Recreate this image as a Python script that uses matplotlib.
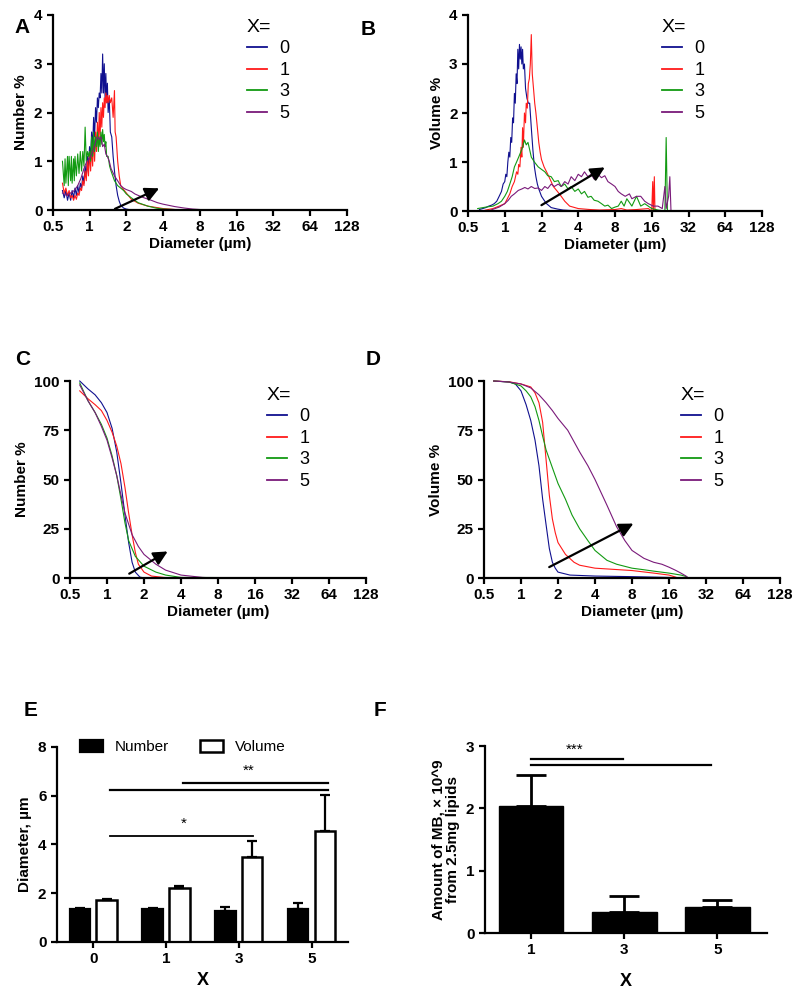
import matplotlib
matplotlib.use('Agg')
import matplotlib.pyplot as plt
from matplotlib.ticker import NullLocator

plt.rcParams['font.family'] = ['Liberation Sans', 'DejaVu Sans']

groups = ['0', '1', '3', '5']
colors = ['#10108f', '#ff1a1a', '#129a12', '#7a1a7a']
ticks_d = [0.5, 1, 2, 4, 8, 16, 32, 64, 128]
tick_lbl = ['0.5', '1', '2', '4', '8', '16', '32', '64', '128']

# A: number % distribution
a0_d = [0.60, 0.62, 0.64, 0.66, 0.68, 0.70, 0.72, 0.74, 0.76, 0.78, 0.80, 0.82, 0.84, 0.86, 0.88, 0.90,
        0.92, 0.94, 0.96, 0.98, 1.00, 1.02, 1.04, 1.06, 1.08, 1.10, 1.12, 1.14, 1.16, 1.18, 1.20, 1.22,
        1.24, 1.26, 1.28, 1.30, 1.32, 1.34, 1.36, 1.38, 1.40, 1.42, 1.45, 1.48, 1.52, 1.56, 1.60, 1.65,
        1.70, 1.75, 1.80, 1.90, 2.0, 2.2, 128]
a0_y = [0.4, 0.25, 0.4, 0.2, 0.35, 0.2, 0.4, 0.25, 0.45, 0.3, 0.5, 0.35, 0.55, 0.45, 0.7, 0.55,
        0.9, 0.7, 1.1, 0.9, 1.3, 1.1, 1.6, 1.3, 1.9, 1.5, 2.1, 1.8, 2.3, 2.1, 2.4, 2.3,
        2.8, 2.4, 3.2, 2.4, 3.0, 2.3, 2.8, 2.2, 2.6, 2.0, 2.3, 1.6, 1.5, 1.1, 0.8, 0.5,
        0.3, 0.18, 0.1, 0.04, 0.02, 0, 0]
a1_d = [0.60, 0.62, 0.64, 0.66, 0.68, 0.70, 0.72, 0.74, 0.76, 0.78, 0.80, 0.82, 0.84, 0.86, 0.88, 0.90,
        0.92, 0.94, 0.96, 0.98, 1.00, 1.02, 1.04, 1.06, 1.08, 1.10, 1.12, 1.14, 1.16, 1.18, 1.20, 1.22,
        1.24, 1.26, 1.28, 1.30, 1.32, 1.34, 1.36, 1.38, 1.40, 1.42, 1.45, 1.48, 1.52, 1.56, 1.60, 1.62,
        1.65, 1.70, 1.75, 1.80, 1.90, 2.0, 2.2, 2.5, 3.0, 4.0, 5.0, 6.0, 128]
a1_y = [0.55, 0.35, 0.45, 0.3, 0.4, 0.25, 0.3, 0.2, 0.3, 0.22, 0.35, 0.3, 0.45, 0.4, 0.6, 0.5,
        0.8, 0.6, 1.0, 0.7, 1.2, 0.8, 1.3, 0.9, 1.5, 1.0, 1.6, 1.2, 1.8, 1.3, 2.0, 1.5,
        2.1, 1.7, 2.2, 1.9, 2.3, 2.1, 2.4, 2.2, 2.35, 2.2, 2.35, 2.2, 2.3, 1.9, 2.45, 1.6,
        1.5, 1.0, 0.7, 0.5, 0.42, 0.35, 0.22, 0.14, 0.08, 0.03, 0.01, 0, 0]
a3_d = [0.60, 0.62, 0.63, 0.64, 0.66, 0.67, 0.68, 0.70, 0.71, 0.72, 0.74, 0.75, 0.76, 0.78, 0.80, 0.82,
        0.84, 0.86, 0.88, 0.90, 0.92, 0.94, 0.96, 0.98, 1.00, 1.02, 1.04, 1.06, 1.08, 1.10, 1.12, 1.14,
        1.16, 1.18, 1.20, 1.22, 1.24, 1.26, 1.28, 1.30, 1.32, 1.34, 1.36, 1.38, 1.42, 1.46, 1.50, 1.55,
        1.60, 1.70, 1.80, 1.90, 2.0, 2.2, 2.5, 3.0, 3.5, 4.0, 5.0, 6.0, 128]
a3_y = [1.0, 0.5, 1.05, 0.55, 1.1, 0.5, 1.1, 0.6, 1.1, 0.55, 1.05, 0.6, 1.1, 0.7, 1.15, 0.75,
        1.2, 0.8, 1.2, 0.9, 1.7, 1.0, 1.2, 1.1, 1.2, 1.0, 1.5, 1.1, 1.6, 1.2, 1.5, 1.3,
        1.6, 1.2, 1.5, 1.3, 1.6, 1.35, 1.65, 1.4, 1.55, 1.3, 1.4, 1.1, 1.1, 0.9, 0.8, 0.7,
        0.6, 0.5, 0.45, 0.4, 0.33, 0.25, 0.15, 0.08, 0.04, 0.02, 0.01, 0, 0]
a5_d = [0.60, 0.65, 0.70, 0.75, 0.80, 0.85, 0.90, 0.95, 1.00, 1.04, 1.08, 1.12, 1.16, 1.20, 1.24, 1.28,
        1.32, 1.36, 1.40, 1.45, 1.50, 1.60, 1.70, 1.80, 1.90, 2.0, 2.1, 2.2, 2.35, 2.5, 2.8, 3.2,
        3.6, 4.0, 5.0, 6.0, 7.0, 8.0, 9.0, 128]
a5_y = [0.35, 0.3, 0.35, 0.4, 0.5, 0.65, 0.85, 1.0, 1.05, 1.15, 1.25, 1.4, 1.5, 1.45, 1.5, 1.3,
        1.35, 1.15, 1.1, 1.0, 0.85, 0.7, 0.6, 0.5, 0.45, 0.42, 0.4, 0.38, 0.33, 0.3, 0.25, 0.2,
        0.15, 0.12, 0.07, 0.04, 0.02, 0.01, 0, 0]

# B: volume % distribution
b0_d = [0.62, 0.66, 0.70, 0.74, 0.78, 0.82, 0.86, 0.90, 0.94, 0.97, 1.00, 1.02, 1.04, 1.06, 1.08, 1.10,
        1.12, 1.14, 1.16, 1.18, 1.20, 1.22, 1.24, 1.26, 1.28, 1.30, 1.32, 1.34, 1.36, 1.38, 1.40, 1.42,
        1.45, 1.48, 1.52, 1.56, 1.60, 1.65, 1.70, 1.75, 1.80, 1.85, 1.90, 2.0, 2.1, 2.2, 2.4, 2.7,
        3.0, 3.5, 4.0, 128]
b0_y = [0.03, 0.05, 0.07, 0.1, 0.12, 0.15, 0.2, 0.3, 0.4, 0.55, 0.6, 0.75, 0.7, 1.0, 1.2, 1.1,
        1.5, 1.4, 1.9, 1.8, 2.4, 2.2, 2.8, 2.6, 3.3, 2.9, 3.4, 3.1, 3.35, 3.0, 3.3, 2.9,
        3.0, 2.5, 2.3, 2.2, 2.2, 1.7, 1.25, 0.9, 0.7, 0.55, 0.45, 0.3, 0.22, 0.15, 0.07, 0.04,
        0.02, 0.01, 0, 0]
b1_d = [0.66, 0.70, 0.80, 0.90, 1.00, 1.05, 1.10, 1.15, 1.20, 1.25, 1.28, 1.30, 1.33, 1.36, 1.38, 1.40,
        1.42, 1.45, 1.48, 1.50, 1.53, 1.56, 1.59, 1.62, 1.65, 1.68, 1.72, 1.76, 1.80, 1.85, 1.90, 1.95,
        2.0, 2.1, 2.2, 2.3, 2.4, 2.5, 2.7, 2.9, 3.1, 3.4, 4.0, 5.0, 6.0, 8.0, 9.0, 10.0,
        12.0, 15.0, 16.0, 16.3, 16.5, 16.8, 17.0, 128]
b1_y = [0, 0.02, 0.05, 0.1, 0.15, 0.25, 0.35, 0.5, 0.6, 0.8, 0.75, 0.95, 0.9, 1.3, 1.1, 1.7,
        1.3, 2.0, 1.8, 2.2, 2.1, 2.6, 2.7, 3.0, 3.6, 2.8, 2.5, 2.2, 2.0, 1.7, 1.4, 1.2,
        1.05, 0.9, 0.8, 0.7, 0.6, 0.5, 0.4, 0.3, 0.2, 0.1, 0.05, 0.03, 0.02, 0.03, 0.05, 0.02,
        0.03, 0.05, 0, 0.6, 0, 0.7, 0, 0]
b3_d = [0.60, 0.70, 0.80, 0.88, 0.94, 1.00, 1.05, 1.10, 1.15, 1.20, 1.25, 1.30, 1.35, 1.40, 1.45, 1.50,
        1.55, 1.60, 1.65, 1.75, 1.88, 2.0, 2.13, 2.25, 2.4, 2.55, 2.74, 2.9, 3.1, 3.3, 3.5, 3.75,
        4.0, 4.25, 4.5, 4.8, 5.1, 5.4, 5.8, 6.2, 6.6, 7.0, 7.5, 8.0, 8.5, 9.0, 9.5, 10.0,
        11.0, 12.0, 13.0, 14.0, 16.0, 18.0, 20.5, 21.0, 21.5, 128]
b3_y = [0.05, 0.08, 0.1, 0.15, 0.2, 0.3, 0.4, 0.55, 0.7, 0.9, 1.0, 1.1, 1.2, 1.3, 1.45, 1.35,
        1.4, 1.25, 1.1, 1.0, 0.9, 0.85, 0.8, 0.72, 0.7, 0.6, 0.62, 0.5, 0.55, 0.45, 0.5, 0.4,
        0.45, 0.35, 0.4, 0.28, 0.3, 0.22, 0.2, 0.15, 0.1, 0.12, 0.05, 0.08, 0.1, 0.2, 0.1, 0.25,
        0.1, 0.3, 0.1, 0.15, 0.05, 0.02, 0, 1.5, 0, 0]
b5_d = [0.77, 0.90, 1.00, 1.07, 1.13, 1.20, 1.29, 1.38, 1.46, 1.55, 1.65, 1.76, 1.88, 2.0, 2.13, 2.25,
        2.4, 2.55, 2.74, 2.9, 3.1, 3.3, 3.5, 3.75, 4.0, 4.25, 4.5, 4.8, 5.1, 5.4, 5.8, 6.2,
        6.6, 7.0, 7.5, 8.0, 8.5, 9.0, 9.7, 10.5, 11.0, 12.0, 13.0, 14.0, 15.0, 16.5, 18.0, 19.5,
        20.5, 21.0, 22.0, 22.5, 23.0, 128]
b5_y = [0.02, 0.08, 0.15, 0.22, 0.3, 0.35, 0.42, 0.45, 0.48, 0.45, 0.5, 0.46, 0.47, 0.42, 0.5, 0.46,
        0.55, 0.5, 0.55, 0.5, 0.6, 0.55, 0.7, 0.62, 0.75, 0.7, 0.8, 0.7, 0.75, 0.65, 0.75, 0.68,
        0.72, 0.6, 0.55, 0.5, 0.4, 0.35, 0.3, 0.35, 0.25, 0.3, 0.3, 0.2, 0.15, 0.1, 0.1, 0.05,
        0.5, 0.05, 0.3, 0.7, 0, 0]

# C: cumulative number %
c0_d = [0.6, 0.7, 0.8, 0.9, 1.0, 1.1, 1.2, 1.3, 1.4, 1.5, 1.6, 1.7, 1.85, 2.0, 128]
c0_y = [100, 96, 93, 89, 84, 76, 64, 48, 32, 18, 8, 3, 0.5, 0, 0]
c1_d = [0.6, 0.7, 0.8, 0.9, 1.0, 1.1, 1.2, 1.3, 1.4, 1.5, 1.6, 1.7, 1.8, 2.0, 2.3, 3.0, 128]
c1_y = [95, 91, 88, 85, 80, 74, 67, 58, 46, 33, 22, 13, 7, 3, 1, 0.2, 0]
c3_d = [0.6, 0.7, 0.8, 0.9, 1.0, 1.1, 1.2, 1.3, 1.4, 1.5, 1.7, 2.0, 2.5, 3.0, 4.0, 128]
c3_y = [99, 90, 84, 78, 71, 62, 52, 40, 28, 19, 11, 6, 3, 1.5, 0.3, 0]
c5_d = [0.6, 0.7, 0.8, 0.9, 1.0, 1.1, 1.2, 1.3, 1.4, 1.6, 1.8, 2.0, 2.5, 3.0, 4.0, 6.0, 8.0, 128]
c5_y = [98, 90, 84, 77, 70, 61, 52, 42, 33, 22, 16, 12, 7, 4, 1.5, 0.3, 0, 0]

# D: cumulative volume %
d0_d = [0.6, 0.8, 0.9, 1.0, 1.1, 1.2, 1.3, 1.4, 1.5, 1.6, 1.7, 1.8, 1.9, 2.0, 2.5, 4.0, 8.0, 16.0, 20.0, 128]
d0_y = [100, 99.5, 98.5, 95, 88, 80, 70, 57, 40, 27, 15, 8, 5, 3, 1.5, 1, 0.7, 0.3, 0, 0]
d1_d = [0.6, 0.8, 1.0, 1.2, 1.3, 1.4, 1.5, 1.6, 1.7, 1.8, 1.9, 2.0, 2.3, 2.7, 3.0, 4.0, 6.0, 8.0,
        12.0, 16.0, 18.0, 19.0, 128]
d1_y = [100, 99.6, 98.5, 97, 94, 89, 79, 60, 42, 30, 23, 18, 12, 8, 6.5, 5, 4.3, 3.8, 2.5, 1.5, 0.5, 0, 0]
d3_d = [0.6, 0.8, 1.0, 1.1, 1.2, 1.3, 1.4, 1.5, 1.6, 1.8, 2.0, 2.3, 2.6, 3.0, 3.5, 4.0, 5.0, 6.0,
        8.0, 10.0, 12.0, 16.0, 20.0, 22.0, 23.0, 128]
d3_y = [100, 99.5, 97.5, 95, 92, 87, 80, 72, 65, 56, 48, 40, 32, 25, 19, 14, 9, 7, 5, 4.2, 3.5, 2.5,
        1.5, 0.8, 0, 0]
d5_d = [0.6, 0.8, 1.0, 1.2, 1.4, 1.6, 1.8, 2.0, 2.4, 3.0, 3.5, 4.0, 5.0, 6.0, 7.0, 8.0, 10.0, 12.0,
        14.0, 16.0, 18.0, 20.0, 22.0, 23.0, 128]
d5_y = [100, 99.5, 98.5, 96.5, 93, 89, 85, 81, 75, 64, 57, 50, 37, 26, 19, 14, 10, 8, 7, 5.5, 4, 2.5,
        1, 0, 0]

# E: mean diameters
e_num = [1.34, 1.34, 1.28, 1.37]
e_num_err = [0.06, 0.06, 0.16, 0.21]
e_vol = [1.71, 2.22, 3.50, 4.55]
e_vol_err = [0.07, 0.07, 0.64, 1.49]

# F: MB yield
f_groups = ['1', '3', '5']
f_amount = [2.04, 0.34, 0.42]
f_err = [0.50, 0.25, 0.11]


def style_axes(ax):
    for s in ['top', 'right']:
        ax.spines[s].set_visible(False)
    for s in ['left', 'bottom']:
        ax.spines[s].set_linewidth(1.6)
    ax.tick_params(width=1.6, length=4, labelsize=11)
    for lbl in ax.get_xticklabels() + ax.get_yticklabels():
        lbl.set_fontweight('bold')


def dist_panel(ax, series, ylim, yticks, ylabel, leg_x, leg_y):
    for (d, y), c, g in zip(series, colors, groups):
        ax.plot(d, y, color=c, lw=0.8, label=g, clip_on=False)
    ax.set_xscale('log', base=2)
    ax.set_xlim(0.5, 128)
    ax.set_xticks(ticks_d)
    ax.set_xticklabels(tick_lbl)
    ax.xaxis.set_minor_locator(NullLocator())
    ax.set_ylim(*ylim)
    ax.set_yticks(yticks)
    ax.set_ylabel(ylabel, fontsize=11, fontweight='bold')
    ax.set_xlabel('Diameter (\u00b5m)', fontsize=11, fontweight='bold', labelpad=2)
    style_axes(ax)
    leg = ax.legend(title='X=', loc='upper left', bbox_to_anchor=(leg_x, leg_y), frameon=False,
                    fontsize=13, title_fontsize=14, handlelength=1.1, handletextpad=0.7,
                    labelspacing=0.25, borderaxespad=0, borderpad=0, alignment='left')
    for ln in leg.get_lines():
        ln.set_linewidth(1.3)


def arrow(ax, start, tip):
    ax.annotate('', xy=tip, xytext=start,
                arrowprops=dict(arrowstyle='-|>', color='black', lw=1.6, mutation_scale=21))


fig = plt.figure(figsize=(8, 9.93), dpi=100)

axA = fig.add_axes([0.066, 0.7885, 0.3675, 0.1964])
dist_panel(axA, [(a0_d, a0_y), (a1_d, a1_y), (a3_d, a3_y), (a5_d, a5_y)],
           (0, 4), [0, 1, 2, 3, 4], 'Number %', 0.66, 0.98)
arrow(axA, (1.54, 0.0), (3.9, 0.47))

axB = fig.add_axes([0.585, 0.7875, 0.3675, 0.1974])
dist_panel(axB, [(b0_d, b0_y), (b1_d, b1_y), (b3_d, b3_y), (b5_d, b5_y)],
           (0, 4), [0, 1, 2, 3, 4], 'Volume %', 0.66, 0.98)
arrow(axB, (1.91, 0.09), (6.9, 0.92))

axC = fig.add_axes([0.0875, 0.4179, 0.37, 0.1984])
dist_panel(axC, [(c0_d, c0_y), (c1_d, c1_y), (c3_d, c3_y), (c5_d, c5_y)],
           (0, 100), [0, 25, 50, 75, 100], 'Number %', 0.665, 0.97)
arrow(axC, (1.45, 1.5), (3.26, 14.2))

axD = fig.add_axes([0.605, 0.4179, 0.37, 0.1984])
dist_panel(axD, [(d0_d, d0_y), (d1_d, d1_y), (d3_d, d3_y), (d5_d, d5_y)],
           (0, 100), [0, 25, 50, 75, 100], 'Volume %', 0.665, 0.97)
arrow(axD, (1.62, 4.9), (8.6, 28.3))

# E
axE = fig.add_axes([0.071, 0.0514, 0.364, 0.1964])
xe = range(len(groups))
w = 0.28
axE.bar([x - 0.185 for x in xe], e_num, w, color='black', edgecolor='black', lw=1.6,
        yerr=[[0] * 4, e_num_err], capsize=3.5, error_kw=dict(lw=1.6, capthick=1.6),
        label='Number')
axE.bar([x + 0.185 for x in xe], e_vol, w, color='white', edgecolor='black', lw=1.8,
        yerr=[[0] * 4, e_vol_err], capsize=3.5, error_kw=dict(lw=1.6, capthick=1.6),
        label='Volume')
axE.set_xlim(-0.5, 3.5)
axE.set_ylim(0, 8)
axE.set_yticks([0, 2, 4, 6, 8])
axE.set_xticks(list(xe))
axE.set_xticklabels(groups)
axE.set_ylabel('Diameter, \u00b5m', fontsize=11, fontweight='bold')
axE.set_xlabel('X', fontsize=13, fontweight='bold', labelpad=4)
style_axes(axE)
axE.legend(loc='center left', bbox_to_anchor=(0.08, 1.0), ncol=2, frameon=False, fontsize=11,
           handlelength=1.5, handleheight=0.8, columnspacing=2.0, handletextpad=0.8,
           borderaxespad=0, borderpad=0)
axE.plot([0.23, 2.19], [4.33, 4.33], color='black', lw=1.3)
axE.text(1.25, 4.55, '*', ha='center', va='bottom', fontsize=11)
axE.plot([0.23, 3.22], [6.25, 6.25], color='black', lw=1.6)
axE.plot([1.24, 3.22], [6.52, 6.52], color='black', lw=1.6)
axE.text(2.13, 6.75, '**', ha='center', va='bottom', fontsize=11)

# F
axF = fig.add_axes([0.606, 0.0604, 0.3525, 0.1883])
xf = range(len(f_groups))
axF.bar(list(xf), f_amount, 0.69, color='black', edgecolor='black',
        yerr=[[0] * 3, f_err], capsize=11, error_kw=dict(lw=2, capthick=2))
axF.set_xlim(-0.5, 2.53)
axF.set_ylim(0, 3)
axF.set_yticks([0, 1, 2, 3])
axF.set_xticks(list(xf))
axF.set_xticklabels(f_groups)
axF.set_ylabel('Amount of MB, \u00d7 10^9\nfrom 2.5mg lipids', fontsize=11, fontweight='bold',
               linespacing=1.1)
axF.set_xlabel('X', fontsize=13, fontweight='bold', labelpad=11)
style_axes(axF)
axF.plot([0, 0.98], [2.79, 2.79], color='black', lw=1.6)
axF.plot([0, 1.93], [2.69, 2.69], color='black', lw=1.6)
axF.text(0.47, 2.82, '***', ha='center', va='bottom', fontsize=11)

# panel letters
for lbl, x, y in [('A', 0.028, 0.972), ('B', 0.46, 0.970), ('C', 0.028, 0.638), ('D', 0.467, 0.638),
                  ('E', 0.038, 0.284), ('F', 0.475, 0.284)]:
    fig.text(x, y, lbl, fontsize=15, fontweight='bold', ha='center', va='center')

fig.savefig('out.png', dpi=100)
